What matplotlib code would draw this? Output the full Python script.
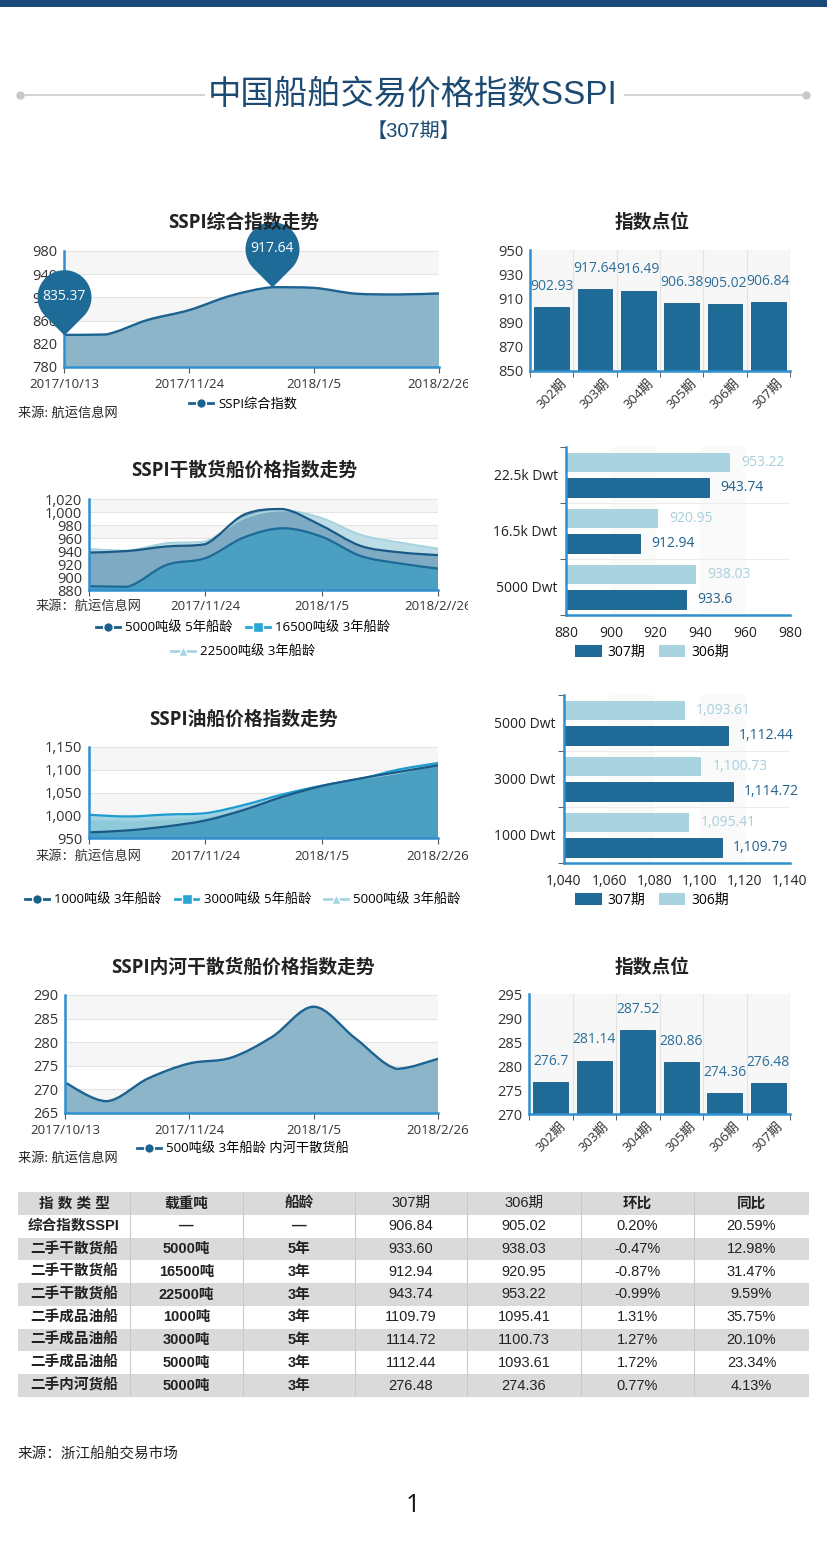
import numpy as np
import matplotlib
matplotlib.use('Agg')
import matplotlib.pyplot as plt
from matplotlib.path import Path
from matplotlib.patches import PathPatch, Rectangle, Patch
from matplotlib.lines import Line2D
from matplotlib.ticker import FuncFormatter
from matplotlib.transforms import Bbox, TransformedBbox

plt.rcParams['font.family'] = ['Open Sans', 'Noto Sans CJK SC', 'DejaVu Sans']
TABLE_FONT = ['Liberation Sans', 'Noto Sans CJK SC', 'DejaVu Sans']

W, H = 827, 1561

# ---------------- data ----------------
x_pos = [0, 3, 6, 9]
dates_a = ['2017/10/13', '2017/11/24', '2018/1/5', '2018/2/26']
dates_b = ['来源：航运信息网', '2017/11/24', '2018/1/5', '2018/2//26']
dates_c = ['来源：航运信息网', '2017/11/24', '2018/1/5', '2018/2/26']

sspi = [835.37, 836.0, 861.0, 878.0, 902.93, 917.64, 916.49, 906.38, 905.02, 906.84]
periods = ['302期', '303期', '304期', '305期', '306期', '307期']
sspi_bar = [902.93, 917.64, 916.49, 906.38, 905.02, 906.84]

bulk_5000 = [937.6, 940.0, 947.0, 950.5, 996.0, 1004.6, 979.0, 948.0, 938.03, 933.60]
bulk_16500 = [886.0, 885.0, 918.6, 929.0, 961.0, 975.0, 962.0, 932.5, 920.95, 912.94]
bulk_22500 = [943.0, 940.5, 952.0, 954.6, 990.7, 1002.5, 990.7, 965.0, 953.22, 943.74]
bulk_cats = ['5000 Dwt', '16.5k Dwt', '22.5k Dwt']
bulk_307 = [933.6, 912.94, 943.74]
bulk_306 = [938.03, 920.95, 953.22]

oil_1000 = [962.4, 966.7, 975.5, 988.5, 1011.8, 1040.9, 1064.2, 1081.0, 1095.41, 1109.79]
oil_3000 = [1001.0, 997.3, 1001.6, 1004.5, 1022.7, 1046.0, 1065.0, 1080.0, 1100.73, 1114.72]
oil_5000 = [990.0, 988.5, 991.5, 997.3, 1017.6, 1044.5, 1064.2, 1080.0, 1093.61, 1112.44]
oil_cats = ['1000 Dwt', '3000 Dwt', '5000 Dwt']
oil_307 = [1109.79, 1114.72, 1112.44]
oil_306 = [1095.41, 1100.73, 1093.61]

river = [271.45, 267.5, 272.3, 275.5, 276.7, 281.14, 287.52, 280.86, 274.36, 276.48]
river_bar = [276.7, 281.14, 287.52, 280.86, 274.36, 276.48]

tbl_header = ['指 数 类 型', '载重吨', '船龄', '307期', '306期', '环比', '同比']
tbl_type = ['综合指数SSPI', '二手干散货船', '二手干散货船', '二手干散货船',
            '二手成品油船', '二手成品油船', '二手成品油船', '二手内河货船']
tbl_dwt = ['—', '5000吨', '16500吨', '22500吨', '1000吨', '3000吨', '5000吨', '5000吨']
tbl_age = ['—', '5年', '3年', '3年', '3年', '5年', '3年', '3年']
tbl_307 = ['906.84', '933.60', '912.94', '943.74', '1109.79', '1114.72', '1112.44', '276.48']
tbl_306 = ['905.02', '938.03', '920.95', '953.22', '1095.41', '1100.73', '1093.61', '274.36']
tbl_mom = ['0.20%', '-0.47%', '-0.87%', '-0.99%', '1.31%', '1.27%', '1.72%', '0.77%']
tbl_yoy = ['20.59%', '12.98%', '31.47%', '9.59%', '35.75%', '20.10%', '23.34%', '4.13%']

# ---------------- colours ----------------
DARK = '#1f6b98'
LIGHT = '#a9d3de'
AXBLUE = '#2f8fcf'
TXT = '#333333'

fig = plt.figure(figsize=(W / 100, H / 100), dpi=100)


def add_ax(x0, y0, x1, y1):
    return fig.add_axes([x0 / W, 1 - y1 / H, (x1 - x0) / W, (y1 - y0) / H])


def fx(x):
    return x / W


def fy(y):
    return 1 - y / H


def smooth(xs, ys):
    verts = [(xs[0], ys[0])]
    codes = [Path.MOVETO]
    n = len(xs)
    for i in range(n - 1):
        x0, y0 = xs[i], ys[i]
        x1, y1 = xs[i + 1], ys[i + 1]
        xm, ym = (xs[i - 1], ys[i - 1]) if i > 0 else (x0, y0)
        xp, yp = (xs[i + 2], ys[i + 2]) if i + 2 < n else (x1, y1)
        lo, hi = min(y0, y1), max(y0, y1)
        c1 = (x0 + (x1 - xm) / 6, min(max(y0 + (y1 - ym) / 6, lo), hi))
        c2 = (x1 - (xp - x0) / 6, min(max(y1 - (yp - y0) / 6, lo), hi))
        verts += [c1, c2, (x1, y1)]
        codes += [Path.CURVE4] * 3
    return verts, codes


def area(ax, ys, base, fc, z=2):
    xs = np.arange(len(ys))
    v, c = smooth(xs, ys)
    verts = [(xs[0], base)] + v + [(xs[-1], base), (xs[0], base)]
    codes = [Path.MOVETO, Path.LINETO] + c[1:] + [Path.LINETO, Path.CLOSEPOLY]
    ax.add_patch(PathPatch(Path(verts, codes), fc=fc, ec='none', zorder=z))


def curve(ax, ys, color, lw=1.6, z=3):
    xs = np.arange(len(ys))
    v, c = smooth(xs, ys)
    ax.add_patch(PathPatch(Path(v, c), fill=False, ec=color, lw=lw, zorder=z,
                           joinstyle='round', capstyle='round'))


def style_line(ax, ylim, yticks, comma=False):
    ax.set_xlim(0, 9)
    ax.set_ylim(*ylim)
    ax.set_yticks(yticks)
    if comma:
        ax.yaxis.set_major_formatter(FuncFormatter(lambda v, p: f'{v:,.0f}'))
    for k in range(len(yticks) - 1):
        if (len(yticks) - 2 - k) % 2 == 0:
            ax.axhspan(yticks[k], yticks[k + 1], color='#f6f6f6', lw=0, zorder=0)
    ax.grid(axis='y', color='#e4e4e4', lw=0.8)
    ax.set_axisbelow(True)
    for s in ['top', 'right']:
        ax.spines[s].set_visible(False)
    for s in ['left', 'bottom']:
        ax.spines[s].set_color(AXBLUE)
        ax.spines[s].set_linewidth(1.8)
        ax.spines[s].set_zorder(4)
    ax.tick_params(axis='y', length=0, labelsize=10.5, labelcolor=TXT, pad=5)
    ax.set_xticks(x_pos)
    ax.tick_params(axis='x', length=4, color='#555555', labelbottom=False)


def xlabels(ax, labels, dy=12.5, clip_px=468):
    clip = TransformedBbox(Bbox([[0, 0], [clip_px / W, 1]]), fig.transFigure)
    for p, lab in zip(x_pos, labels):
        t = ax.annotate(lab, xy=(p, 0), xycoords=('data', 'axes fraction'),
                        xytext=(0, -dy), textcoords='offset points', ha='center',
                        va='center', fontsize=9.5, color=TXT, annotation_clip=False)
        t.set_clip_box(clip)
        t.set_clip_on(True)


def style_vbar(ax, vals, ylim, yticks):
    ax.set_xlim(-0.5, 5.5)
    ax.set_ylim(*ylim)
    ax.set_yticks(yticks)
    ax.set_facecolor('#f7f7f7')
    for b in np.arange(-0.5, 6):
        ax.axvline(b, color='#e4e4e4', lw=0.8, zorder=0.5)
    ax.bar(range(len(vals)), vals, width=0.8, color=DARK, ec='#185a82', lw=0.6, zorder=2)
    for i, v in enumerate(vals):
        ax.annotate(f'{v:,}', (i, v), xytext=(0, 9.5), textcoords='offset points',
                    ha='center', va='bottom', fontsize=10, color='#2a6e9a',
                    annotation_clip=False)
    for s in ['top', 'right']:
        ax.spines[s].set_visible(False)
    for s in ['left', 'bottom']:
        ax.spines[s].set_color(AXBLUE)
        ax.spines[s].set_linewidth(1.8)
    ax.set_xticks(range(len(vals)))
    ax.set_xticklabels(periods, rotation=45, fontsize=9.5, color=TXT)
    ax.set_xticks(np.arange(-0.5, 6), minor=True)
    ax.tick_params(axis='x', which='major', length=0, pad=4)
    ax.tick_params(axis='x', which='minor', length=4, color='#444444')
    ax.tick_params(axis='y', length=0, labelsize=10.5, labelcolor=TXT, pad=5)


def style_hbar(ax, cats, v307, v306, xlim, xticks):
    ax.set_xlim(*xlim)
    ax.set_ylim(-0.5, 2.5)
    for k in range(len(xticks) - 1):
        if k % 2 == 1:
            ax.axvspan(xticks[k], xticks[k + 1], color='#fafafa', lw=0, zorder=0)
    for b in [0.5, 1.5]:
        ax.axhline(b, color='#ececec', lw=0.8, zorder=0.5)
    y = np.arange(len(cats))
    ax.barh(y + 0.23, v306, height=0.34, color=LIGHT, zorder=2)
    ax.barh(y - 0.23, v307, height=0.34, color=DARK, ec='#185a82', lw=0.6, zorder=2)
    for i in range(len(cats)):
        ax.annotate(f'{v306[i]:,}', (v306[i], y[i] + 0.23), xytext=(8, 0),
                    textcoords='offset points', va='center', ha='left',
                    fontsize=10, color='#a6cfda')
        ax.annotate(f'{v307[i]:,}', (v307[i], y[i] - 0.23), xytext=(8, 0),
                    textcoords='offset points', va='center', ha='left',
                    fontsize=10, color='#22608c')
    ax.set_xticks(xticks)
    ax.xaxis.set_major_formatter(FuncFormatter(lambda v, p: f'{v:,.0f}'))
    ax.set_yticks(y)
    ax.set_yticklabels(cats)
    ax.set_yticks(np.arange(-0.5, 3), minor=True)
    ax.tick_params(axis='y', which='major', length=0, labelsize=10, labelcolor='#222222', pad=6)
    ax.tick_params(axis='y', which='minor', length=4, color='#444444')
    ax.tick_params(axis='x', length=0, labelsize=10, labelcolor='#222222', pad=8)
    for s in ['top', 'right']:
        ax.spines[s].set_visible(False)
    for s in ['left', 'bottom']:
        ax.spines[s].set_color(AXBLUE)
        ax.spines[s].set_linewidth(1.8)


def line_legend(specs, cx, cy, ncol):
    handles = [Line2D([], [], color=c, marker=m, markersize=7, mec='white', mew=1.0, lw=2)
               for c, m, _ in specs]
    fig.legend(handles, [s[2] for s in specs], loc='center', bbox_to_anchor=(fx(cx), fy(cy)),
               ncol=ncol, frameon=False, fontsize=9.5, handlelength=1.8,
               handletextpad=0.4, columnspacing=1.0, borderpad=0)


def bar_legend(cx, cy):
    handles = [Patch(fc=DARK), Patch(fc=LIGHT)]
    fig.legend(handles, ['307期', '306期'], loc='center', bbox_to_anchor=(fx(cx), fy(cy)),
               ncol=2, frameon=False, fontsize=10, handlelength=1.9, handleheight=1.0,
               handletextpad=0.4, columnspacing=1.0, borderpad=0)


# ---------------- header ----------------
fig.add_artist(Rectangle((0, fy(7)), 1, 7 / H, transform=fig.transFigure,
                         color='#1b4a7a', lw=0))
for xa, xb in [(20, 204), (625, 806)]:
    fig.add_artist(Line2D([fx(xa), fx(xb)], [fy(95), fy(95)], color='#d4d4d4', lw=1.5))
fig.add_artist(Line2D([fx(20), fx(806)], [fy(95), fy(95)], color='#c8c8c8', lw=0,
                      marker='o', markersize=5))
fig.text(fx(413), fy(95), '中国船舶交易价格指数SSPI', ha='center', va='center',
         fontsize=24, fontweight='light', color='#1d4a72', family=TABLE_FONT)
fig.text(fx(413), fy(131), '【307期】', ha='center', va='center', fontsize=14.5,
         color='#1d4a72', family=TABLE_FONT)

title_kw = dict(ha='center', va='center', fontsize=13.5, fontweight='bold', color='#222222')
src_kw = dict(ha='left', va='center', fontsize=9.5, color='#222222')

# ---------------- chart 1 ----------------
fig.text(fx(244), fy(223), 'SSPI综合指数走势', **title_kw)
ax1 = add_ax(64, 251, 439, 367)
style_line(ax1, (780, 980), np.arange(780, 981, 40))
area(ax1, sspi, 780, '#8cb5ca')
curve(ax1, sspi, '#1d6391', lw=1.7)
xlabels(ax1, dates_a)

d = 1.42
alpha = np.degrees(np.arccos(1 / d))
angs = np.radians(np.linspace(-90 + alpha, 270 - alpha, 80))
pin_verts = [(0, 0)] + [(np.cos(a), d + np.sin(a)) for a in angs] + [(0, 0)]
pin = Path(pin_verts, [Path.MOVETO] + [Path.LINETO] * 80 + [Path.CLOSEPOLY])
for idx in [0, int(np.argmax(sspi))]:
    ax1.plot([idx], [sspi[idx]], marker=pin, markersize=94, color=DARK, mec='none',
             ls='none', clip_on=False, zorder=10)
    ax1.annotate(f'{sspi[idx]}', (idx, sspi[idx]), xytext=(0, 27.6), textcoords='offset points',
                 ha='center', va='center', color='white', fontsize=10, zorder=11,
                 annotation_clip=False)
line_legend([('#1d6391', 'o', 'SSPI综合指数')], 243, 404, 1)
fig.text(fx(18), fy(413), '来源: 航运信息网', **src_kw)

fig.text(fx(652), fy(223), '指数点位', **title_kw)
ax1b = add_ax(530, 250, 790, 371)
style_vbar(ax1b, sspi_bar, (850, 950), np.arange(850, 951, 20))

# ---------------- chart 2 ----------------
fig.text(fx(244), fy(471), 'SSPI干散货船价格指数走势', **title_kw)
ax2 = add_ax(89, 499, 438, 590)
style_line(ax2, (880, 1020), np.arange(880, 1021, 20), comma=True)
area(ax2, bulk_22500, 880, '#bcdde6')
area(ax2, bulk_5000, 880, '#7eaac3')
area(ax2, bulk_16500, 880, '#4b9fc1')
curve(ax2, bulk_22500, '#a7d3de', lw=1.4)
curve(ax2, bulk_5000, '#1b5a86', lw=1.6)
curve(ax2, bulk_16500, '#1d6a98', lw=1.6)
xlabels(ax2, dates_b, dy=12)
line_legend([('#1b5f8c', 'o', '5000吨级 5年船龄'), ('#29a6d6', 's', '16500吨级 3年船龄')],
            243, 628, 2)
line_legend([('#a7d5e0', '^', '22500吨级 3年船龄')], 243, 652, 1)

ax2b = add_ax(566, 447, 790, 615)
style_hbar(ax2b, bulk_cats, bulk_307, bulk_306, (880, 980), np.arange(880, 981, 20))
bar_legend(652, 652)

# ---------------- chart 3 ----------------
fig.text(fx(243), fy(720), 'SSPI油船价格指数走势', **title_kw)
ax3 = add_ax(89, 747, 438, 838)
style_line(ax3, (950, 1150), np.arange(950, 1151, 50), comma=True)
area(ax3, oil_3000, 950, '#a3d6e4')
area(ax3, oil_5000, 950, '#8fcadb')
area(ax3, oil_1000, 950, '#4b9fc1')
curve(ax3, oil_5000, '#9fd0dd', lw=1.4)
curve(ax3, oil_3000, '#1e9bd0', lw=1.6)
curve(ax3, oil_1000, '#1b5a86', lw=1.6)
xlabels(ax3, dates_c, dy=13.5)
line_legend([('#1b5f8c', 'o', '1000吨级 3年船龄'), ('#29a6d6', 's', '3000吨级 5年船龄'),
             ('#a7d5e0', '^', '5000吨级 3年船龄')], 243, 900, 3)

ax3b = add_ax(564, 695, 790, 863)
style_hbar(ax3b, oil_cats, oil_307, oil_306, (1040, 1140), np.arange(1040, 1141, 20))
bar_legend(652, 900)

# ---------------- chart 4 ----------------
fig.text(fx(243), fy(968), 'SSPI内河干散货船价格指数走势', **title_kw)
ax4 = add_ax(65, 995, 438, 1113)
style_line(ax4, (265, 290), np.arange(265, 291, 5))
area(ax4, river, 265, '#8cb5ca')
curve(ax4, river, '#1d6391', lw=1.7)
xlabels(ax4, dates_a)
line_legend([('#1d6391', 'o', '500吨级 3年船龄 内河干散货船')], 243, 1149, 1)
fig.text(fx(18), fy(1158), '来源: 航运信息网', **src_kw)

fig.text(fx(652), fy(968), '指数点位', **title_kw)
ax4b = add_ax(529, 994, 790, 1114)
style_vbar(ax4b, river_bar, (270, 295), np.arange(270, 296, 5))

# ---------------- table ----------------
col_edges = [18, 130, 243, 355, 467, 581, 694, 809]
axt = add_ax(18, 1192, 809, 1397)
axt.set_xlim(18, 809)
axt.set_ylim(9, 0)
axt.axis('off')
for r in range(9):
    axt.add_patch(Rectangle((18, r), 791, 1, fc='#dadada' if r % 2 == 0 else 'white', lw=0))
for e in col_edges[1:-1]:
    axt.plot([e, e], [0, 9], color='#c9c9c9', lw=0.8)
columns = [tbl_type, tbl_dwt, tbl_age, tbl_307, tbl_306, tbl_mom, tbl_yoy]
bold_cols = [0, 1, 2]
for c, col in enumerate(columns):
    cx = (col_edges[c] + col_edges[c + 1]) / 2
    hw = 'normal' if c in (3, 4) else 'bold'
    axt.text(cx, 0.5, tbl_header[c], ha='center', va='center', fontsize=10.5,
             fontweight=hw, color='#222222', family=TABLE_FONT)
    for r, val in enumerate(col):
        axt.text(cx, r + 1.5, val, ha='center', va='center', fontsize=10.5,
                 fontweight='bold' if c in bold_cols else 'normal', color='#222222',
                 family=TABLE_FONT)

# ---------------- footer ----------------
fig.text(fx(18), fy(1455), '来源：浙江船舶交易市场', ha='left', va='center',
         fontsize=10.5, color='#222222')
fig.text(fx(413), fy(1506), '1', ha='center', va='center', fontsize=18, color='#111111')

fig.savefig('out.png', dpi=100)
